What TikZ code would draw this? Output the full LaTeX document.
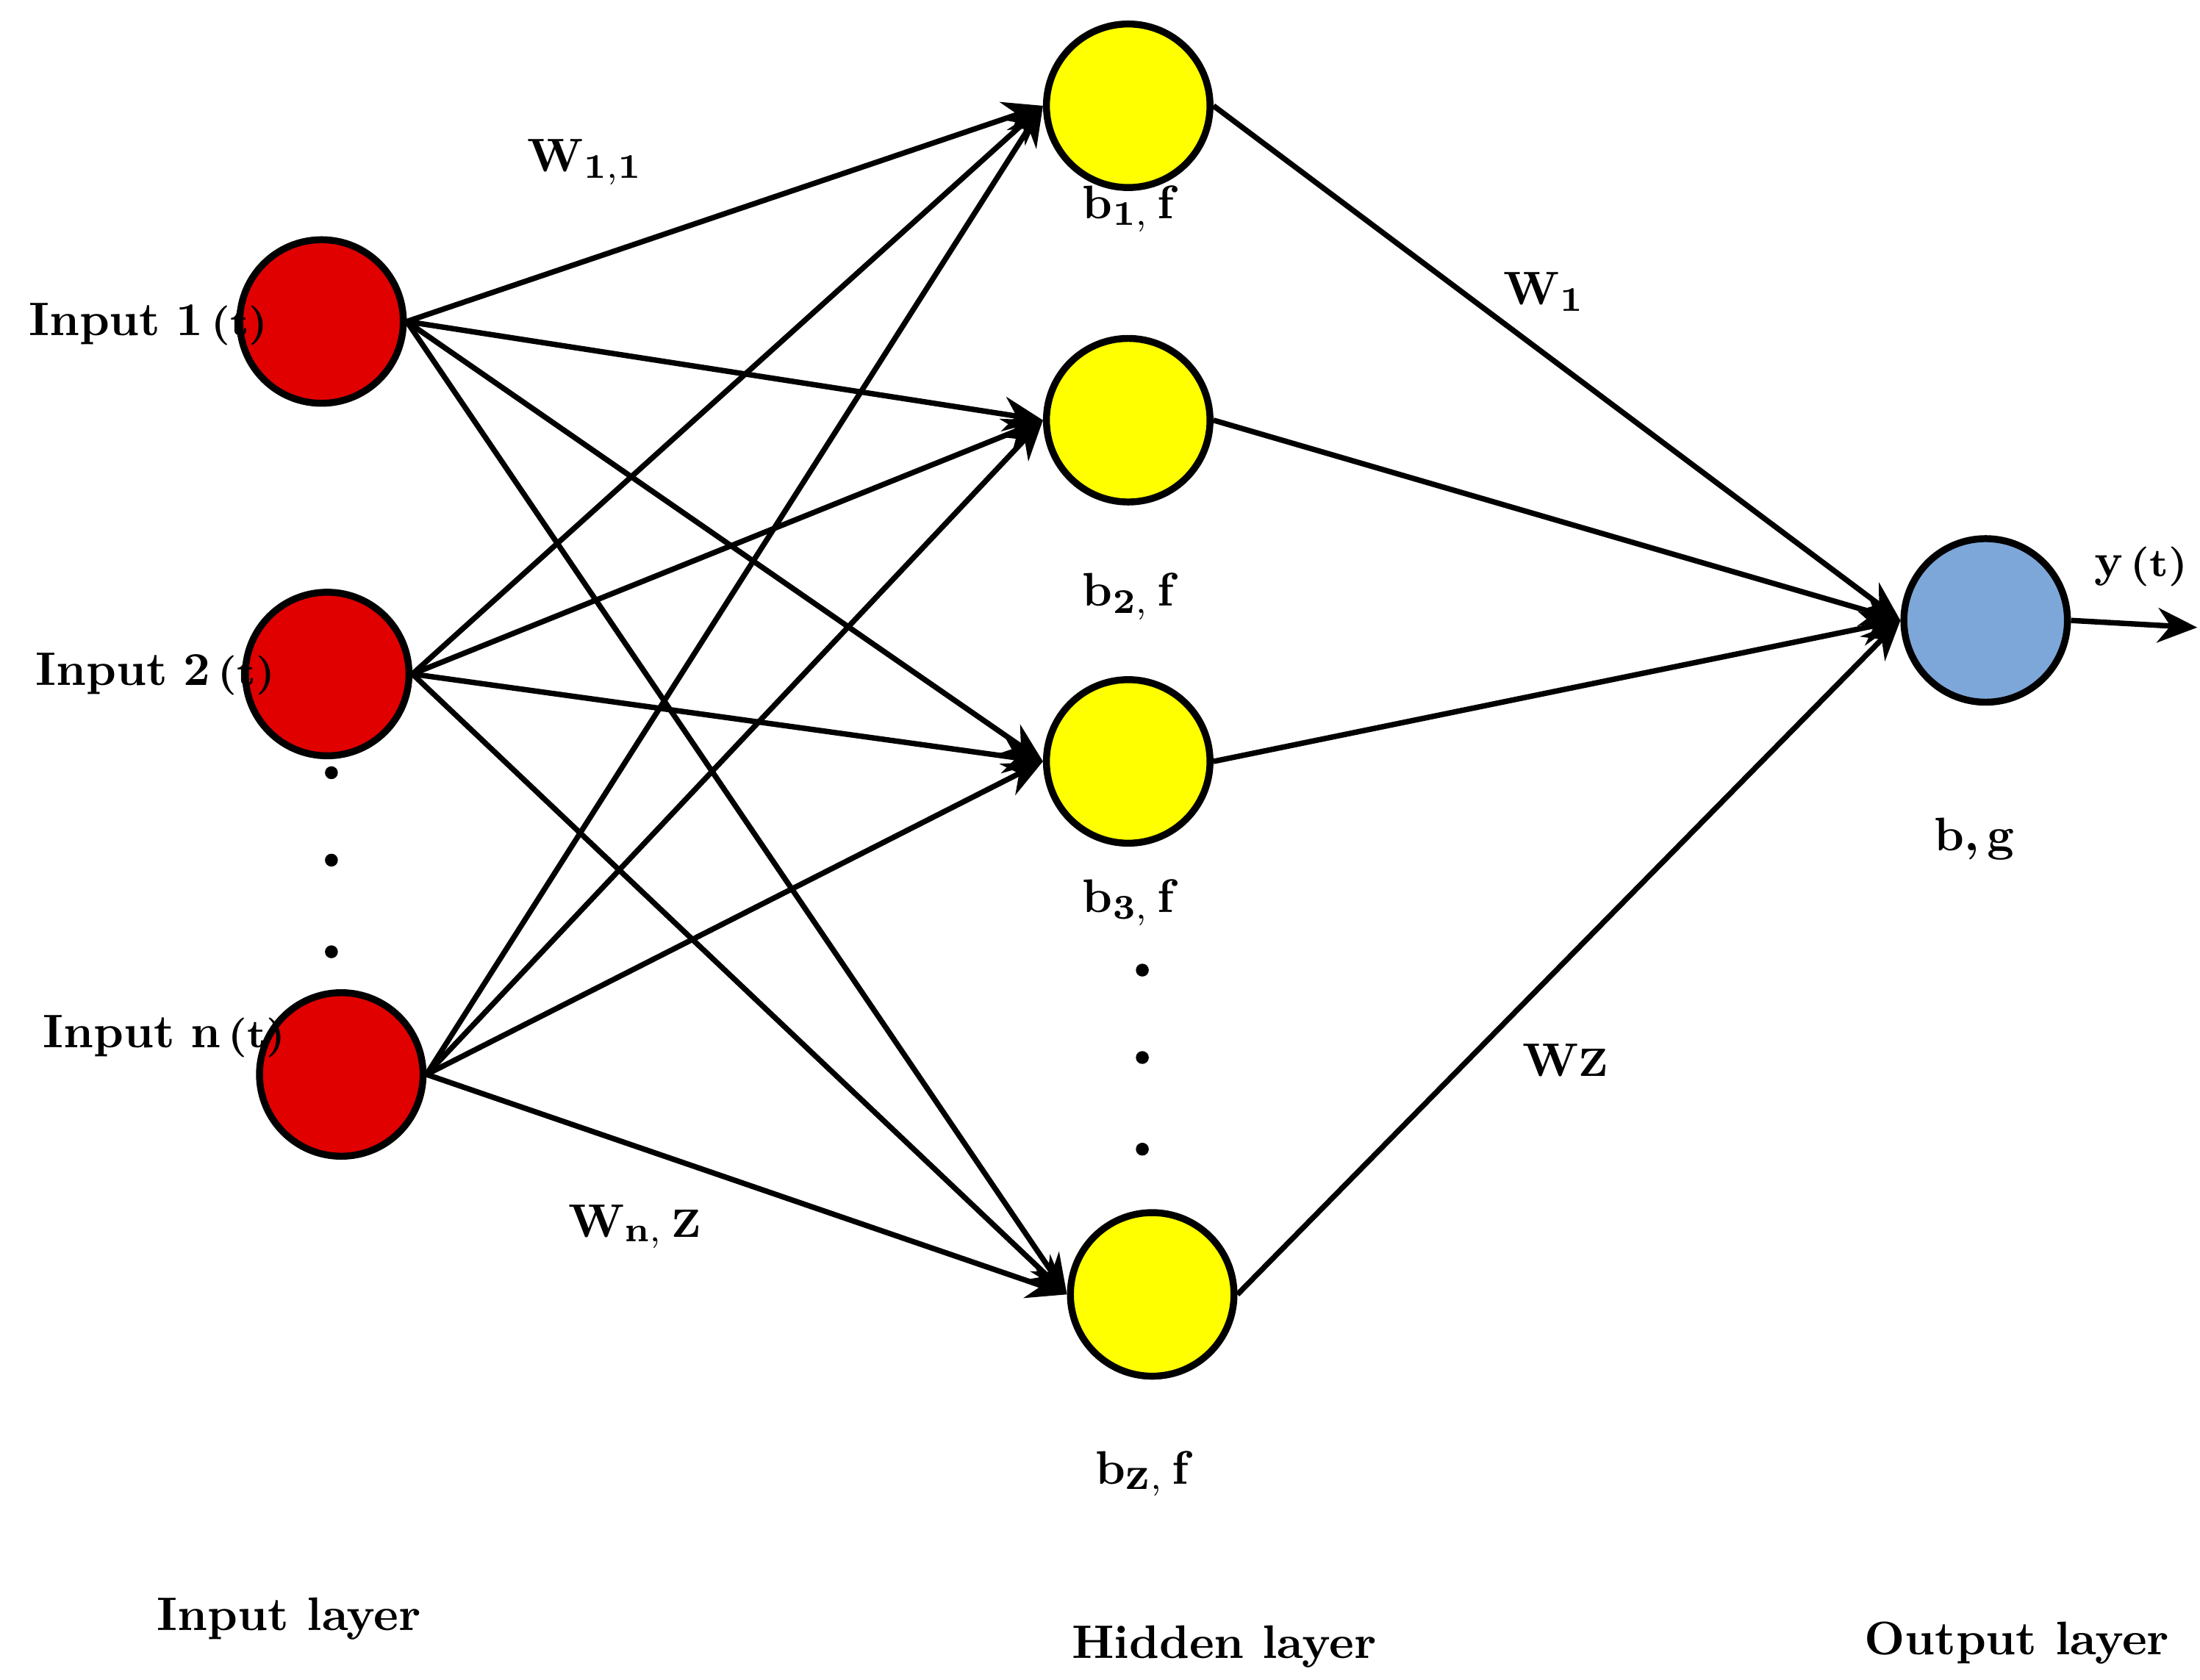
\documentclass[tikz,border=0pt]{standalone}
\usepackage{tikz}
\usetikzlibrary{arrows.meta,positioning}
\definecolor{inred}{HTML}{E00000}
\definecolor{hidyel}{HTML}{FFFF00}
\definecolor{outblue}{HTML}{7DA7D9}
\tikzset{
  neuron/.style={circle,draw=black,line width=1.4pt,minimum size=1.16cm,inner sep=0pt},
  conn/.style={line width=1.1pt,-{Stealth[length=8pt,width=7pt]}},
  lbl/.style={font=\bfseries\fontsize{9.5}{11}\selectfont},
}
\begin{document}
\begin{tikzpicture}[x=1cm,y=-1cm]
\useasboundingbox (0,0) rectangle (15.6,11.91);
% input layer
\node[neuron,fill=inred] (i1) at (2.28,2.28) {};
\node[neuron,fill=inred] (i2) at (2.32,4.78) {};
\node[neuron,fill=inred] (i3) at (2.42,7.62) {};
% hidden layer
\node[neuron,fill=hidyel] (h1) at (8.00,0.75) {};
\node[neuron,fill=hidyel] (h2) at (8.00,2.98) {};
\node[neuron,fill=hidyel] (h3) at (8.00,5.40) {};
\node[neuron,fill=hidyel] (h4) at (8.17,9.18) {};
% output layer
\node[neuron,fill=outblue] (o) at (14.08,4.40) {};
\coordinate (yend) at (15.58,4.45);

\foreach \i in {i1,i2,i3}
  \foreach \h in {h1,h2,h3,h4}
    \draw[conn] (\i.east) -- (\h.west);
\foreach \h in {h1,h2,h3,h4}
  \draw[conn] (\h.east) -- (o.west);
\draw[conn] (o.east) -- (yend);

% labels
\node[lbl,anchor=west] (t1) at (0.08,2.30) {Input\,\,1\,{\footnotesize(t)}};
\node[lbl,anchor=west] (t2) at (0.13,4.78) {Input\,\,2\,{\footnotesize(t)}};
\node[lbl,anchor=west] (t3) at (0.18,7.35) {Input\,\,n\,{\footnotesize(t)}};
\node[lbl] (w11) at (4.15,1.15) {W$_{\mathbf{1,1}}$};
\node[lbl] (wnz) at (4.50,8.70) {W$_{\mathbf{n,}}$\,{\footnotesize Z}};
\node[lbl] (w1) at (10.95,2.07) {W$_{\mathbf{1}}$};
\node[lbl] (wz) at (11.10,7.52) {W{\footnotesize Z}};
\node[lbl] (b1) at (8.00,1.48) {b$_{\mathbf{1,}}$\,f};
\node[lbl] (b2) at (8.00,4.23) {b$_{\mathbf{2,}}$\,f};
\node[lbl] (b3) at (8.00,6.40) {b$_{\mathbf{3,}}$\,f};
\node[lbl] (bz) at (8.10,10.45) {b$_{\textsc{z},}$\,f};
\node[lbl] (bg) at (14.00,5.95) {b,\,g};
\node[lbl] (yt) at (15.18,4.02) {y\,{\footnotesize(t)}};
\foreach \y in {5.48,6.10,6.75}
  \fill (2.35,\y) circle (1.3pt);
\foreach \y in {6.88,7.50,8.15}
  \fill (8.10,\y) circle (1.3pt);
\node[lbl] (l1) at (2.05,11.48) {Input layer};
\node[lbl] (l2) at (8.68,11.68) {Hidden layer};
\node[lbl] (l3) at (14.30,11.65) {Output layer};
\end{tikzpicture}
\end{document}
